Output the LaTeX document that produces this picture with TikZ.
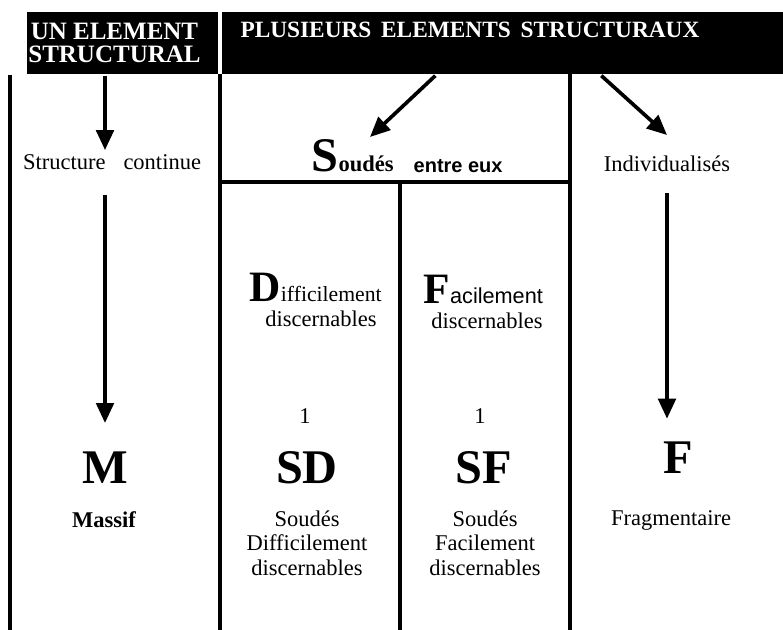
\documentclass[tikz,border=0pt]{standalone}
\usepackage{fontspec}
\setmainfont{Liberation Serif}
\newfontfamily\arialf{Liberation Sans}
\usetikzlibrary{arrows.meta,calc}

\begin{document}
\begin{tikzpicture}[x=0.6pt,y=-0.6pt,
    every node/.style={inner sep=0,outer sep=1},
    bande/.style={fill=black,minimum height=37.2pt},
    entete/.style={text=white,font=\bfseries\fontsize{14}{14}\selectfont},
    txt/.style={font=\fontsize{13.5}{14.5}\selectfont,align=center},
    gros/.style={font=\bfseries\fontsize{29}{29}\selectfont},
    trait/.style={line width=2.4pt},
    fleche/.style={line width=2.2pt,-{Triangle[length=12pt,width=10.5pt]}}]
    \useasboundingbox (0,0) rectangle (783,630);
    \node[bande,minimum width=114.6pt] (h1) at (122.5,43) {};
    \node[bande,minimum width=336.6pt] (h2) at (502.5,43) {};
    \node[entete,align=center,font=\bfseries\fontsize{15}{14}\selectfont] (t1) at (114.5,43) {UN ELEMENT\\STRUCTURAL};
    \node[entete,anchor=base] (t2) at (470,38) {PLUSIEURS\, ELEMENTS\, STRUCTURAUX};
    \draw[trait] (10,75) -- (10,630);
    \draw[trait] (220,74) -- (220,630);
    \draw[trait] (570,74) -- (570,630);
    \draw[trait] (220,182) -- (570,182);
    \draw[trait] (400,182) -- (400,630);
    \node[txt,anchor=base] (sc) at (112,170) {Structure\hspace{0.8em}continue};
    \node[anchor=base west] (soud) at (310,172) {\bfseries\fontsize{29}{29}\selectfont S\fontsize{13.5}{14}\selectfont oudés};
    \node[anchor=base west,font=\arialf\bfseries\fontsize{12}{12}\selectfont] (entre) at (412,173) {entre eux};
    \node[txt,anchor=base] (ind) at (667,172) {Individualisés};
    \node[anchor=base west] (diff) at (248,302) {{\bfseries\fontsize{26}{26}\selectfont D}{\fontsize{13}{13}\selectfont ifficilement}};
    \node[txt,anchor=base] (diff2) at (321,327) {discernables};
    \node[anchor=base west] (fac) at (422,303) {{\bfseries\fontsize{26}{26}\selectfont F}{\arialf\fontsize{13}{13}\selectfont acilement}};
    \node[txt,anchor=base] (fac2) at (487,328) {discernables};
    \node[txt,anchor=base] (n1) at (305,423) {1};
    \node[txt,anchor=base] (n2) at (480,423) {1};
    \node[gros,anchor=base] (M) at (105,483) {M};
    \node[gros,anchor=base] (SD) at (307,483) {SD};
    \node[gros,anchor=base] (SF) at (484,483) {SF};
    \node[gros,anchor=base] (F) at (678,473) {F};
    \node[txt,anchor=base,font=\bfseries\fontsize{13.5}{14.5}\selectfont] (mas) at (104,527) {Massif};
    \node[txt,anchor=base] (sd) at (307,575) {Soudés\\Difficilement\\discernables};
    \node[txt,anchor=base] (sf) at (485,575) {Soudés\\Facilement\\discernables};
    \node[txt,anchor=base] (frag) at (671,525) {Fragmentaire};
    \coordinate (pS) at (370,137);
    \coordinate (pI) at (667,135);
    \draw[fleche,shorten >=2pt] (h1.south -| M) -- (sc.north -| M);
    \draw[fleche,shorten <=14pt,shorten >=16pt] (sc.south -| M) -- (M.north);
    \draw[fleche] ($(h2.south west)+(215,0)$) -- (pS);
    \draw[fleche] ($(h2.south west)+(381,0)$) -- (pI);
    \draw[fleche,shorten <=11.5pt,shorten >=12.6pt] (ind.south) -- (ind.south |- F.north);
\end{tikzpicture}
\end{document}
